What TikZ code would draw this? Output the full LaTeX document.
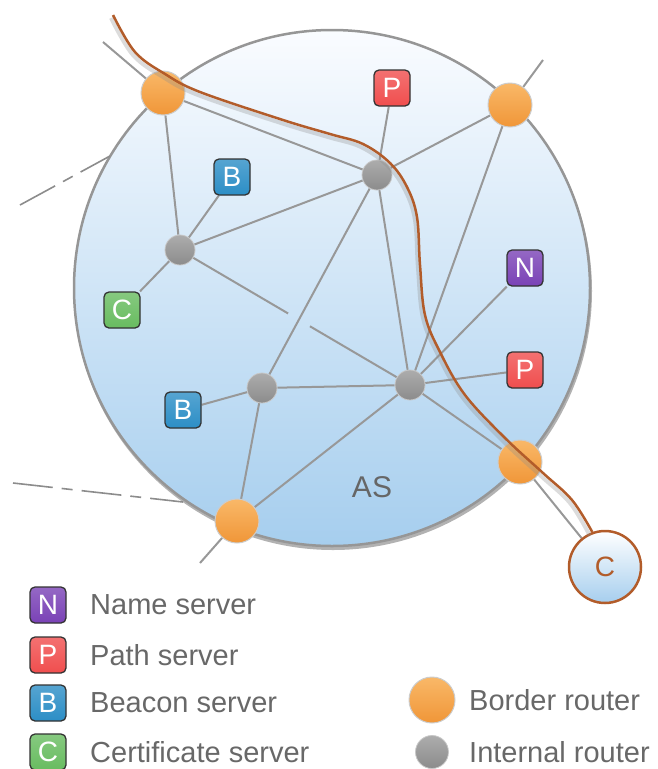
\documentclass[tikz,border=0pt]{standalone}
\usepackage{fontspec}
\setmainfont{Liberation Sans}
\usetikzlibrary{calc,backgrounds}

\definecolor{asTop}{RGB}{250,252,255}
\definecolor{asBottom}{RGB}{166,206,238}
\definecolor{asRim}{RGB}{150,150,150}
\definecolor{linkGray}{RGB}{152,152,152}
\definecolor{brTop}{RGB}{249,184,104}
\definecolor{brBottom}{RGB}{240,150,56}
\definecolor{irTop}{RGB}{172,172,172}
\definecolor{irBottom}{RGB}{140,140,140}
\definecolor{pathBrown}{RGB}{178,92,42}
\definecolor{nameCol}{RGB}{122,66,182}
\definecolor{pathCol}{RGB}{240,78,78}
\definecolor{beaconCol}{RGB}{44,142,198}
\definecolor{certCol}{RGB}{104,188,96}
\definecolor{labelGray}{RGB}{104,104,104}

\tikzset{
  borderrouter/.style={circle, minimum size=44pt, inner sep=0pt, top color=brTop, bottom color=brBottom, draw=black!20, line width=1pt},
  internalrouter/.style={circle, minimum size=30pt, inner sep=0pt, top color=irTop, bottom color=irBottom, draw=black!22, line width=.8pt},
  server/.style={rectangle, rounded corners=5pt, minimum size=36pt, inner sep=0pt, top color=#1!80!white, bottom color=#1, draw=black!80, line width=1.3pt, text=white, font=\fontsize{28}{28}\selectfont},
  link/.style={linkGray, line width=2pt},
  peer/.style={black!45, line width=1.6pt, dash pattern=on 40pt off 9pt on 11pt off 9pt},
  legendtext/.style={right, inner sep=0pt, text=labelGray, font=\fontsize{29}{30}\selectfont}
}

\begin{document}
\begin{tikzpicture}[x=1pt, y=-1pt]
    \useasboundingbox (0,0) rectangle (657,769);

    % Routers
    \node[borderrouter] (br1) at (163,93) {};
    \node[borderrouter] (br2) at (510,105) {};
    \node[borderrouter] (br3) at (520,462) {};
    \node[borderrouter] (br4) at (237,521) {};
    \node[internalrouter] (ir1) at (377,175) {};
    \node[internalrouter] (ir2) at (180,250) {};
    \node[internalrouter] (ir3) at (262,388) {};
    \node[internalrouter] (ir4) at (410,385) {};

    % Servers
    \node[server=pathCol] (ps1) at (392,88) {P};
    \node[server=beaconCol] (bs1) at (232,177) {B};
    \node[server=certCol] (cs) at (122,310) {C};
    \node[server=beaconCol] (bs2) at (183,410) {B};
    \node[server=nameCol] (ns) at (525,268) {N};
    \node[server=pathCol] (ps2) at (525,370) {P};

    \node[text=black!60, font=\fontsize{30}{30}\selectfont] (as) at (372,487) {AS};

    % Client
    \node[circle, minimum size=72pt, inner sep=0pt, draw=pathBrown, line width=2.5pt,
          top color=white, bottom color=asBottom, text=pathBrown,
          font=\fontsize{28}{28}\selectfont] (cl) at (605,567) {C};

    % Loose ends
    \coordinate (br1out) at (103,42);
    \coordinate (br2out) at (543,60);
    \coordinate (br4out) at (200,563);
    \coordinate (peerA1) at (20,205);
    \coordinate (peerA2) at (110,156);
    \coordinate (peerB1) at (13,483);
    \coordinate (peerB2) at (183,502);
    \coordinate (pathstart) at (113,15);

    \begin{scope}[on background layer]
        % AS disc
        \fill[black!30] (333,291) circle (259pt);
        \shadedraw[top color=asTop, bottom color=asBottom, draw=asRim, line width=2.5pt] (332,288) circle (258pt);

        % Links to neighbouring ASes
        \draw[peer] (peerA1) -- (peerA2);
        \draw[peer] (peerB1) -- (peerB2);

        % Internal links
        \draw[link] (br1) -- (br1out);
        \draw[link] (br2) -- (br2out);
        \draw[link] (br4) -- (br4out);
        \draw[link] (br1) -- (ir2);
        \draw[link] (br1) -- (ir1);
        \draw[link] (ir1) -- (ps1);
        \draw[link] (ir1) -- (br2);
        \draw[link] (ir1) -- (ir2);
        \draw[link] (ir1) -- (ir3);
        \draw[link] (ir1) -- (ir4);
        \draw[link] (ir2) -- (bs1);
        \draw[link] (ir2) -- (cs);
        \draw[link] (ir2) -- ($(ir2)!0.47!(ir4)$);
        \draw[link] ($(ir2)!0.565!(ir4)$) -- (ir4);
        \draw[link] (br2) -- (ir4);
        \draw[link] (ns) -- (ir4);
        \draw[link] (ps2) -- (ir4);
        \draw[link] (ir4) -- (br3);
        \draw[link] (ir4) -- (ir3);
        \draw[link] (ir4) -- (br4);
        \draw[link] (ir3) -- (bs2);
        \draw[link] (ir3) -- (br4);
        \draw[link] (br3) -- (cl);
    \end{scope}

    % End-to-end path with its shadow
    \draw[black!45, opacity=.3, line width=4pt, shift={(-2,3)}] plot[smooth, tension=.6] coordinates {
        (113,15) (135,52) (165,74) (200,92) (283,120) (330,134) (363,144) (390,163) (407,187)
        (417,217) (420,265) (425,315) (440,352) (465,395) (505,438) (543,473) (572,500) (592,533)};
    \draw[pathBrown, line width=2.5pt] plot[smooth, tension=.6] coordinates {
        (pathstart) (135,52) (165,74) (200,92) (283,120) (330,134) (363,144) (390,163) (407,187)
        (417,217) (420,265) (425,315) (440,352) (465,395) (505,438) (543,473) (572,500) (cl.110)};

    % Legend
    \node[server=nameCol] (lgn) at (48,605) {N};
    \node[legendtext] (lgntext) at (90,605) {Name server};
    \node[server=pathCol] (lgp) at (48,655) {P};
    \node[legendtext] (lgptext) at (90,655) {Path server};
    \node[server=beaconCol] (lgb) at (48,703) {B};
    \node[legendtext] (lgbtext) at (90,703) {Beacon server};
    \node[server=certCol] (lgc) at (48,752) {C};
    \node[legendtext] (lgctext) at (90,752) {Certificate server};
    \node[borderrouter, minimum size=46pt] (lgbr) at (432,700) {};
    \node[legendtext] (lgbrtext) at (469,700) {Border router};
    \node[internalrouter, minimum size=33pt] (lgir) at (432,752) {};
    \node[legendtext] (lgirtext) at (469,752) {Internal router};
\end{tikzpicture}
\end{document}
